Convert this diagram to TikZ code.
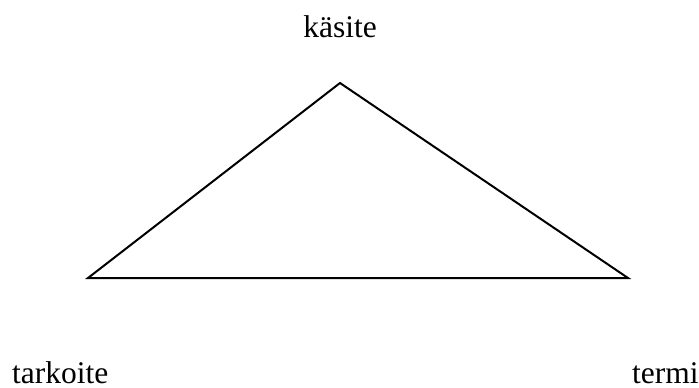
\documentclass[tikz,border=0pt]{standalone}
\usepackage{fontspec}
\setmainfont{Liberation Serif}
\begin{document}
\begin{tikzpicture}[x=1pt,y=-1pt,
  lbl/.style={inner sep=0pt,font=\fontsize{31.5}{36}\selectfont},
  edge/.style={line width=2pt,line join=miter}]
\useasboundingbox (0,0) rectangle (699,388);
\coordinate (top) at (340,83);
\coordinate (left) at (88,278);
\coordinate (right) at (628,278);
\draw[edge] (top) -- (left) -- (right) -- cycle;
\node[lbl,anchor=base] (k) at (340,37) {käsite};
\node[lbl,anchor=base west] (t) at (12,383) {tarkoite};
\node[lbl,anchor=base west] (m) at (632,383) {termi};
\end{tikzpicture}
\end{document}
